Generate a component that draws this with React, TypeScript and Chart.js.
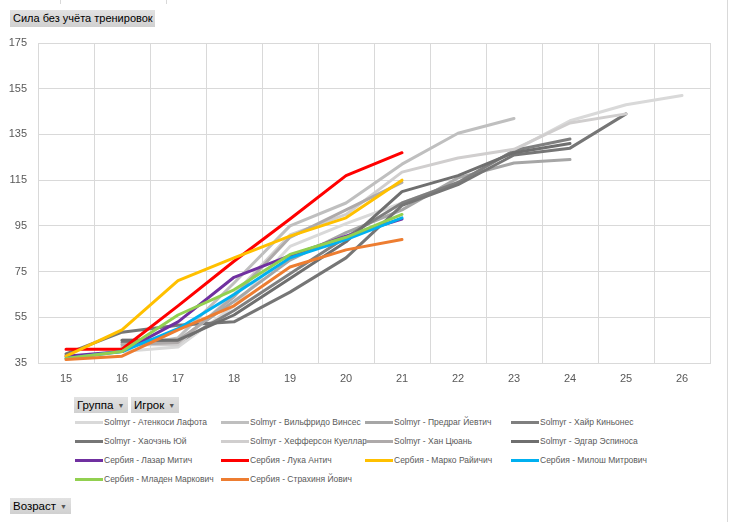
import React, { useEffect, useRef } from "react";
import { Chart, registerables } from "chart.js";

Chart.register(...registerables);

// ---------- data ----------
const ages = ["15", "16", "17", "18", "19", "20", "21", "22", "23", "24", "25", "26"];

const seriesNames = [
  "Solmyr - Атенкоси Лафота",
  "Solmyr - Вильфридо Винсес",
  "Solmyr - Предраг Йевтич",
  "Solmyr - Хайр Киньонес",
  "Solmyr - Хаочэнь Юй",
  "Solmyr - Хефферсон Куеллар",
  "Solmyr - Хан Цюань",
  "Solmyr - Эдгар Эспиноса",
  "Сербия - Лазар Митич",
  "Сербия - Лука Антич",
  "Сербия - Марко Райичич",
  "Сербия - Милош Митрович",
  "Сербия - Младен Маркович",
  "Сербия - Страхиня Йович",
];

const seriesColors = [
  "#d9d9d9",
  "#bfbfbf",
  "#a6a6a6",
  "#7f7f7f",
  "#767676",
  "#d0cece",
  "#aeaaaa",
  "#6f6f6f",
  "#7030a0",
  "#ff0000",
  "#ffc000",
  "#00b0f0",
  "#92d050",
  "#ed7d31",
];

const atenkosiLafota = [null, 40, 42, 60, 86, 96, 105, 114, 128, 141, 148, 152];
const vilfridoVinses = [null, 42, 46, 70, 95, 105, 122, 135.5, 142, null, null, null];
const predragYevtich = [null, 45, 45, 62, 80, 92, 102, 116, 122.5, 124, null, null];
const khayrKinones = [null, 44, 44, 58, 74, 90, 105, 114, 128, 133, null, null];
const khaochenYuy = [39, 48.5, 51.5, 53, 66, 81, 104, 113, 126, 129, 144, null];
const khefersonKuelyar = [null, 43, 43, 65, 91, 100, 118.5, 124.7, 128.5, 140, 144, null];
const khanTsyuan = [null, 43, 44, 64, 90, 102, 114, null, null, null, null, null];
const edgarEspinosa = [null, 45, 45, 56, 72, 88, 110, 117, 127, 131, null, null];
const lazarMitich = [38, 40, 53, 72.5, 82, 90.5, 98, null, null, null, null, null];
const lukaAntich = [41, 41, 60, 79.5, 98, 117, 127, null, null, null, null, null];
const markoRayichich = [38, 49.5, 71, 81, 90.5, 98.5, 115, null, null, null, null, null];
const miloshMitrovich = [37, 40, 50, 65, 81, 89, 98.5, null, null, null, null, null];
const mladenMarkovich = [37, 40, 56, 67, 82.5, 90, 100, null, null, null, null, null];
const strakhinyaYovich = [36.5, 38, 49.5, 60, 77, 84.5, 89, null, null, null, null, null];

const seriesValues = [
  atenkosiLafota,
  vilfridoVinses,
  predragYevtich,
  khayrKinones,
  khaochenYuy,
  khefersonKuelyar,
  khanTsyuan,
  edgarEspinosa,
  lazarMitich,
  lukaAntich,
  markoRayichich,
  miloshMitrovich,
  mladenMarkovich,
  strakhinyaYovich,
];

const yMin = 35;
const yMax = 175;
const yStep = 20;

const chartTitle = "Сила без учёта тренировок";
const filterButtons = ["Группа", "Игрок"];
const axisButton = "Возраст";

// ---------- styling ----------
const FONT = "'Liberation Sans', Arial, sans-serif";
const TEXT = "#595959";
const GRID = "#d9d9d9";

function DropButton({
  label,
  style,
  arrow = true,
}: {
  label: string;
  style: React.CSSProperties;
  arrow?: boolean;
}) {
  return (
    <div
      style={{
        position: "absolute",
        height: 16,
        background: "linear-gradient(#e2e2e2, #d0d0d0)",
        color: "#000",
        fontFamily: FONT,
        fontSize: 11.5,
        lineHeight: "16px",
        paddingLeft: 3,
        paddingRight: 4,
        whiteSpace: "nowrap",
        boxSizing: "border-box",
        ...style,
      }}
    >
      {label}
      {arrow ? (
        <span style={{ fontSize: 7, color: "#555", marginLeft: 4, position: "relative", top: -1 }}>▼</span>
      ) : null}
    </div>
  );
}

export default function App() {
  const canvasRef = useRef<HTMLCanvasElement | null>(null);

  useEffect(() => {
    const canvas = canvasRef.current;
    if (!canvas) return;
    const n = seriesValues.length;
    const chart = new Chart(canvas, {
      type: "line",
      data: {
        labels: ages,
        datasets: seriesValues.map((vals, i) => ({
          label: seriesNames[i],
          data: vals,
          borderColor: seriesColors[i],
          backgroundColor: seriesColors[i],
          borderWidth: 3,
          pointRadius: 0,
          pointHoverRadius: 0,
          tension: 0,
          fill: false,
          borderJoinStyle: "round" as const,
          borderCapStyle: "round" as const,
          order: n - i,
        })),
      },
      options: {
        responsive: false,
        maintainAspectRatio: false,
        animation: false,
        layout: { padding: { top: 43, right: 19, left: 0, bottom: 0 } },
        plugins: {
          legend: { display: false },
          tooltip: { enabled: false },
          title: { display: false },
        },
        scales: {
          x: {
            type: "category",
            offset: true,
            grid: { offset: true, color: GRID, lineWidth: 1, drawTicks: false },
            border: { color: GRID, width: 1 },
            ticks: {
              color: TEXT,
              font: { family: FONT, size: 11 },
              padding: 9,
              maxRotation: 0,
              autoSkip: false,
            },
            afterFit: (s: any) => {
              s.height = 27;
            },
          },
          y: {
            min: yMin,
            max: yMax,
            grid: { color: GRID, lineWidth: 1, drawTicks: false },
            border: { display: false },
            ticks: {
              stepSize: yStep,
              color: TEXT,
              font: { family: FONT, size: 11 },
              padding: 11,
            },
            afterFit: (s: any) => {
              s.width = 38;
            },
          },
        },
      },
    });
    return () => chart.destroy();
  }, []);

  const colX = [104, 250, 394, 540];
  const rowY = [422, 441, 460, 479];

  return (
    <div
      style={{
        position: "absolute",
        left: 0,
        top: 0,
        width: 729,
        height: 522,
        background: "#fff",
        overflow: "hidden",
      }}
    >
      {/* faint sheet lines */}
      <div style={{ position: "absolute", left: 60, top: 0, width: 1, height: 4, background: "#d9d9d9" }} />
      <div style={{ position: "absolute", left: 166, top: 0, width: 1, height: 4, background: "#d9d9d9" }} />
      <div style={{ position: "absolute", left: 727, top: 0, width: 1, height: 522, background: "#d9d9d9" }} />

      <canvas
        ref={canvasRef}
        width={729}
        height={390}
        style={{ position: "absolute", left: 0, top: 0, width: 729, height: 390 }}
      />

      <DropButton
        label={chartTitle}
        arrow={false}
        style={{ left: 10, top: 10, height: 17, lineHeight: "17px", paddingLeft: 3, paddingRight: 2, fontSize: 11 }}
      />

      {filterButtons.map((b, i) => (
        <DropButton key={b} label={b} style={{ left: i === 0 ? 74 : 131, top: 397 }} />
      ))}

      {seriesNames.map((name, i) => {
        const c = i % 4;
        const r = Math.floor(i / 4);
        return (
          <div key={name}>
            <div
              style={{
                position: "absolute",
                left: colX[c] - 29,
                top: rowY[r] - 1,
                width: 28,
                height: 3,
                background: seriesColors[i],
              }}
            />
            <div
              style={{
                position: "absolute",
                left: colX[c],
                top: rowY[r] - 6,
                fontFamily: FONT,
                fontSize: 8.5,
                lineHeight: "12px",
                color: TEXT,
                whiteSpace: "nowrap",
              }}
            >
              {name}
            </div>
          </div>
        );
      })}

      <DropButton label={axisButton} style={{ left: 10, top: 498 }} />
    </div>
  );
}
